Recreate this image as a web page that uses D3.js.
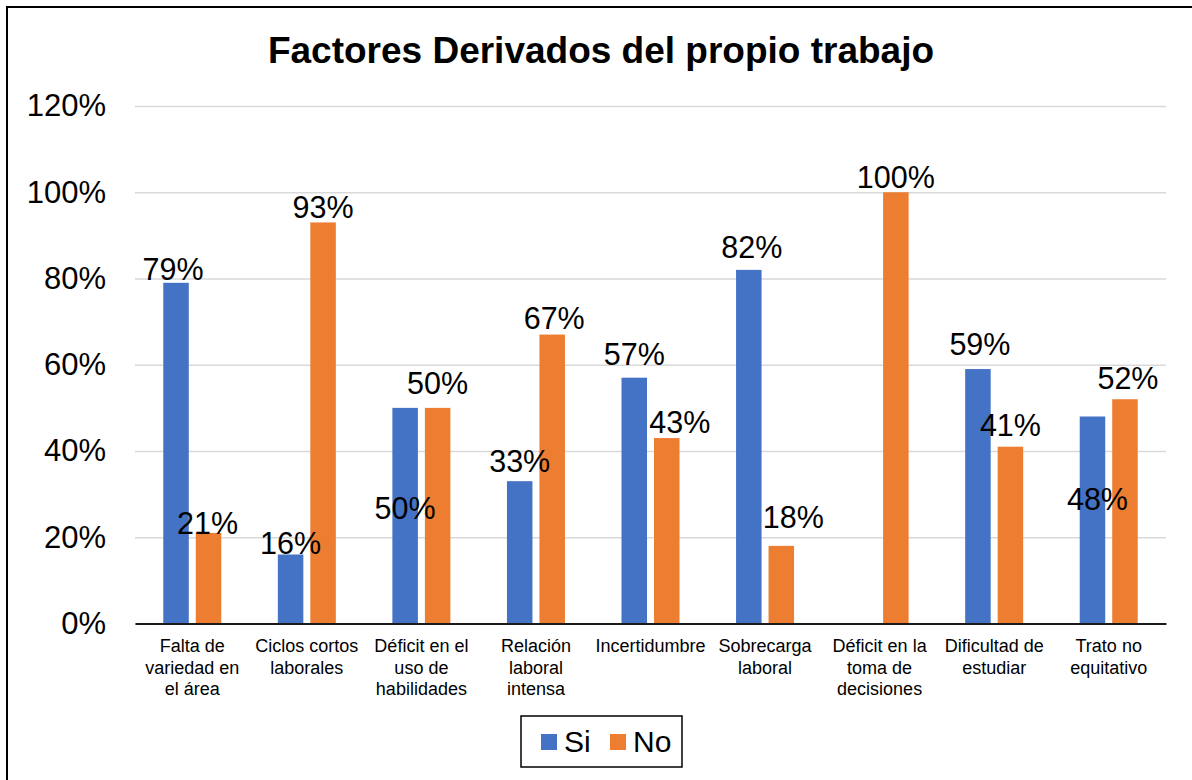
<!DOCTYPE html>
<html>
<head>
<meta charset="utf-8">
<script src="https://cdn.jsdelivr.net/npm/d3@7/dist/d3.min.js"></script>
<style>
body { margin: 0; background: #fff; }
svg text { font-family: "Liberation Sans", Arial, sans-serif; fill: #000; }
</style>
</head>
<body>
<svg width="1192" height="780"></svg>
<script>
var categories = ["Falta de variedad en el área", "Ciclos cortos laborales", "Déficit en el uso de habilidades",
  "Relación laboral intensa", "Incertidumbre", "Sobrecarga laboral", "Déficit en la toma de decisiones",
  "Dificultad de estudiar", "Trato no equitativo"];
var seriesNames = ["Si", "No"];
var siValues = [0.79, 0.16, 0.50, 0.33, 0.57, 0.82, 0, 0.59, 0.48];
var noValues = [0.21, 0.93, 0.50, 0.67, 0.43, 0.18, 1.00, 0.41, 0.52];
var yTicks = [0, 0.2, 0.4, 0.6, 0.8, 1.0, 1.2];
var colors = {Si: "#4472C4", No: "#ED7D31"};

// the labels were dragged by hand in the original, so keep their nudges: [dx, baseline below bar top]
var nudgeSi = [[-3, -3], [0, -1], [0, 111], [0, -9], [0, -13], [3, -12], [0, 0], [2, -14], [5, 93]];
var nudgeNo = [[-1, 1], [0, -4], [0, -14], [2, -6], [13, -5], [12, -18], [0, -4], [0, -11], [3, -10]];

var svg = d3.select("svg");

// outer frame (right/bottom edges fall outside the picture)
svg.append("rect")
  .attr("x", 7).attr("y", 7)
  .attr("width", 1250).attr("height", 850)
  .attr("fill", "none").attr("stroke", "#000").attr("stroke-width", 2);

svg.append("text")
  .attr("x", 601).attr("y", 63)
  .attr("text-anchor", "middle")
  .style("font-size", "37px").style("font-weight", "bold")
  .text("Factores Derivados del propio trabajo");

var plotL = 135, plotR = 1166, plotB = 623.5, plotT = 106;

var x0 = d3.scaleBand().domain(categories).range([plotL, plotR]).padding(0);
var x1 = d3.scaleBand().domain(seriesNames)
  .range([x0.bandwidth() / 2 - 29, x0.bandwidth() / 2 + 29])
  .paddingInner(0.215).paddingOuter(0);
var y = d3.scaleLinear().domain([0, 1.2]).range([plotB, plotT]);

// y axis + gridlines
var yAxis = svg.append("g")
  .attr("transform", "translate(" + plotL + ",0)")
  .call(d3.axisLeft(y).tickValues(yTicks).tickFormat(d3.format(".0%"))
    .tickSize(-(plotR - plotL)).tickPadding(29));
yAxis.select(".domain").remove();
yAxis.selectAll(".tick line").attr("stroke", "#d9d9d9").attr("stroke-width", 1.5);
yAxis.selectAll(".tick text")
  .style("font-size", "31px").style("font-family", "'Liberation Sans', Arial, sans-serif")
  .attr("fill", "#000");

var rows = categories.map(function(c, i) {
  return {cat: c, i: i, vals: [
    {key: "Si", value: siValues[i], nudge: nudgeSi[i]},
    {key: "No", value: noValues[i], nudge: nudgeNo[i]}
  ]};
});

var groups = svg.append("g").selectAll("g")
  .data(rows)
  .enter().append("g")
  .attr("transform", function(d) { return "translate(" + x0(d.cat) + ",0)"; });

groups.selectAll("rect")
  .data(function(d) { return d.vals; })
  .enter().append("rect")
  .attr("x", function(d) { return x1(d.key); })
  .attr("y", function(d) { return y(d.value); })
  .attr("width", x1.bandwidth())
  .attr("height", function(d) { return plotB - y(d.value); })
  .attr("fill", function(d) { return colors[d.key]; });

groups.selectAll("text.lbl")
  .data(function(d) { return d.vals.filter(function(v) { return v.value > 0; }); })
  .enter().append("text")
  .attr("class", "lbl")
  .attr("x", function(d) { return x1(d.key) + x1.bandwidth() / 2 + d.nudge[0]; })
  .attr("y", function(d) { return y(d.value) + d.nudge[1]; })
  .attr("text-anchor", "middle")
  .style("font-size", "30.5px")
  .text(function(d) { return d3.format(".0%")(d.value); });

// x axis with wrapped category names
var xAxis = svg.append("g")
  .attr("transform", "translate(0," + plotB + ")")
  .call(d3.axisBottom(x0).tickSize(0).tickSizeOuter(0).tickPadding(0));
xAxis.select(".domain").attr("stroke", "#1a1a1a").attr("stroke-width", 2);
xAxis.selectAll(".tick text")
  .style("font-size", "18px").style("font-family", "'Liberation Sans', Arial, sans-serif")
  .attr("fill", "#000")
  .each(function() { wrap(d3.select(this), 108); });

function wrap(text, width) {
  var words = text.text().split(" ");
  text.text(null).attr("y", 28.5).attr("dy", null);
  var line = [];
  var tspan = text.append("tspan").attr("x", 0).attr("dy", 0);
  words.forEach(function(w) {
    line.push(w);
    tspan.text(line.join(" "));
    if (tspan.node().getComputedTextLength() > width && line.length > 1) {
      line.pop();
      tspan.text(line.join(" "));
      line = [w];
      tspan = text.append("tspan").attr("x", 0).attr("dy", "21.5px").text(w);
    }
  });
}

// legend
var legend = svg.append("g");
legend.append("rect")
  .attr("x", 521).attr("y", 716).attr("width", 161).attr("height", 51)
  .attr("fill", "#fff").attr("stroke", "#000").attr("stroke-width", 1.5);
var legX = [541, 610];
seriesNames.forEach(function(s, i) {
  legend.append("rect")
    .attr("x", legX[i]).attr("y", 734).attr("width", 16).attr("height", 16)
    .attr("fill", colors[s]);
  legend.append("text")
    .attr("x", legX[i] + 23).attr("y", 752)
    .style("font-size", "30px")
    .text(s);
});
</script>
</body>
</html>
